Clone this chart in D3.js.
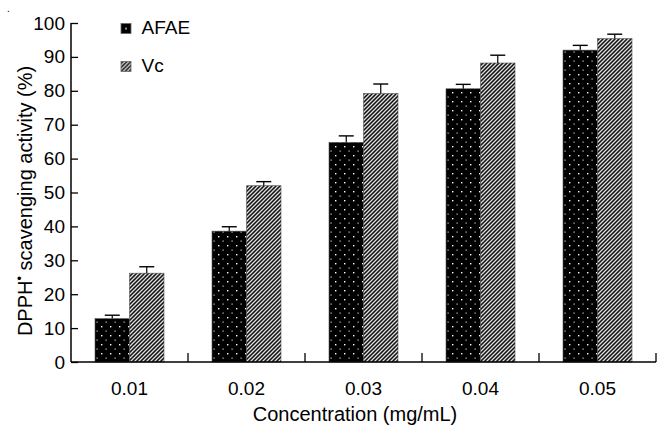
<!DOCTYPE html>
<html><head><meta charset="utf-8">
<script src="https://cdn.jsdelivr.net/npm/d3@7"></script>
<style>body{margin:0;background:#fff}text{font-family:"Liberation Sans",Arial,sans-serif;fill:#000}</style>
</head><body><svg id="c" width="658" height="426"></svg>
<script>
const categories = ["0.01","0.02","0.03","0.04","0.05"];
const seriesNames = ["AFAE","Vc"];
const afae = [12.8, 38.6, 64.8, 80.6, 92.0];
const afaeErr = [1.0, 1.3, 1.9, 1.3, 1.4];
const vc = [26.2, 52.0, 79.2, 88.2, 95.4];
const vcErr = [1.9, 1.2, 2.8, 2.3, 1.3];
const yTicks = [0,10,20,30,40,50,60,70,80,90,100];

const FONT = "Liberation Sans, Arial, sans-serif";
const svg = d3.select("#c");
const defs = svg.append("defs");
const pd = defs.append("pattern").attr("id","dots").attr("patternUnits","userSpaceOnUse")
  .attr("width",9).attr("height",9);
pd.append("rect").attr("width",9).attr("height",9).attr("fill","#000");
pd.append("rect").attr("x",2).attr("y",2).attr("width",1.4).attr("height",1.4).attr("fill","#fff");
pd.append("rect").attr("x",6.5).attr("y",6.5).attr("width",1.2).attr("height",1.2).attr("fill","#ccc");
const pl = defs.append("pattern").attr("id","dot1").attr("patternUnits","objectBoundingBox")
  .attr("width",1).attr("height",1);
pl.append("rect").attr("width",10).attr("height",10).attr("fill","#000");
pl.append("rect").attr("x",4.3).attr("y",4.3).attr("width",1.5).attr("height",1.5).attr("fill","#fff");
const ph = defs.append("pattern").attr("id","hatch").attr("patternUnits","userSpaceOnUse")
  .attr("width",4).attr("height",4);
ph.append("rect").attr("width",4).attr("height",4).attr("fill","#111");
ph.append("path").attr("d","M-1,1 L1,-1 M0,4 L4,0 M3,5 L5,3").attr("stroke","#ddd").attr("stroke-width",1.3);

const x0 = d3.scaleBand().domain(categories).range([71,656]).paddingInner(0).paddingOuter(0);
const x1 = d3.scaleBand().domain(seriesNames).range([24, x0.bandwidth()-24]);
const y = d3.scaleLinear().domain([0,100]).range([362,23]);

const data = categories.map((c,i)=>[
  {cat:c, s:"AFAE", v:afae[i], e:afaeErr[i], fill:"url(#dots)"},
  {cat:c, s:"Vc", v:vc[i], e:vcErr[i], fill:"url(#hatch)"}]).flat();

const g = svg.append("g");
g.selectAll("rect.bar").data(data).join("rect").attr("class","bar")
  .attr("x",d=>x0(d.cat)+x1(d.s)).attr("width",x1.bandwidth())
  .attr("y",d=>y(d.v)).attr("height",d=>y(0)-y(d.v))
  .attr("fill",d=>d.fill).attr("stroke","#555").attr("stroke-width",0.6);

// error bars
const cx = d=>x0(d.cat)+x1(d.s)+x1.bandwidth()/2;
const eg = g.selectAll("g.err").data(data).join("g").attr("class","err");
eg.append("line").attr("x1",cx).attr("x2",cx)
  .attr("y1",d=>y(d.v)).attr("y2",d=>y(d.v+d.e)).attr("stroke","#000").attr("stroke-width",1.2);
eg.append("line").attr("x1",d=>cx(d)-7.5).attr("x2",d=>cx(d)+7.5)
  .attr("y1",d=>y(d.v+d.e)).attr("y2",d=>y(d.v+d.e)).attr("stroke","#000").attr("stroke-width",1.4);

// y axis
const ya = svg.append("g").attr("transform","translate(71,0)")
  .call(d3.axisLeft(y).tickValues(yTicks).tickSize(-7).tickPadding(6).tickFormat(d3.format("d")));
ya.select(".domain").attr("stroke","#000").attr("stroke-width",1.5).attr("d","M0,"+y(100)+"V"+y(0));
ya.selectAll(".tick line").attr("stroke","#000").attr("stroke-width",1.3);
ya.selectAll(".tick text").attr("font-size",19).attr("x",-6).attr("font-family",FONT);

// x axis
const xa = svg.append("g").attr("transform","translate(0,362)")
  .call(d3.axisBottom(x0).tickSize(0).tickPadding(18));
xa.select(".domain").attr("stroke","#000").attr("stroke-width",1.5).attr("d","M71,0H656");
xa.selectAll(".tick text").attr("font-size",19).attr("font-family",FONT).attr("dy",null).attr("y",33);
svg.append("g").selectAll("line").data(categories).join("line")
  .attr("x1",d=>x0(d)+x0.bandwidth()).attr("x2",d=>x0(d)+x0.bandwidth())
  .attr("y1",362).attr("y2",353).attr("stroke","#000").attr("stroke-width",1.3);

// axis titles
svg.append("text").attr("x",355).attr("y",421).attr("text-anchor","middle").attr("font-size",20)
  .text("Concentration (mg/mL)");
const yt = svg.append("text").attr("transform","translate(32,201) rotate(-90)").attr("text-anchor","middle").attr("font-size",20);
yt.append("tspan").text("DPPH");
yt.append("tspan").attr("dy",-8).attr("font-size",13).text("•");
yt.append("tspan").attr("dy",8).text(" scavenging activity (%)");

// legend
const lg = svg.append("g").selectAll("g").data(seriesNames).join("g")
  .attr("transform",(d,i)=>`translate(121,${23.5+i*38})`);
lg.append("rect").attr("width",10).attr("height",10)
  .attr("fill",(d,i)=>i===0?"url(#dot1)":"url(#hatch)").attr("stroke","#666").attr("stroke-width",0.8);
lg.append("text").attr("x",20.5).attr("y",10).attr("font-size",19).text(d=>d);

svg.append("text").attr("x",7).attr("y",12).attr("font-size",10).attr("fill","#333").text(".");
</script></body></html>
